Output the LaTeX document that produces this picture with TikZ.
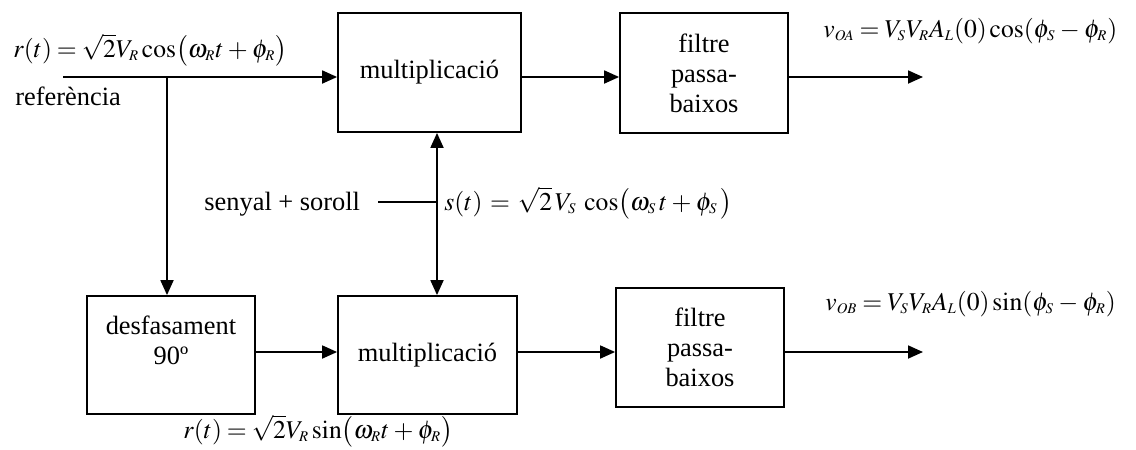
\documentclass[tikz,border=0pt]{standalone}
\usepackage{mathptmx}
\usepackage{fontspec}
\setmainfont{Liberation Serif}
\usetikzlibrary{arrows.meta}
\DeclareMathSizes{12.8}{12.8}{7.4}{5.6}
\AtBeginDocument{\thickmuskip=3.5mu\relax\medmuskip=3mu\relax}

\tikzset{
  blk/.style={draw, line width=0.9pt, inner sep=0pt, align=center,
              font=\fontsize{13.2}{15}\selectfont},
  lbl/.style={inner sep=0pt, font=\fontsize{13.2}{15}\selectfont},
  eq/.style={inner sep=0pt, font=\fontsize{12.8}{15}\selectfont},
  wire/.style={line width=0.9pt},
  arr/.style={wire, -{Triangle[length=7.5pt,width=6.5pt]}},
  darr/.style={wire, {Triangle[length=7.5pt,width=6.5pt]}-{Triangle[length=7.5pt,width=6.5pt]}}
}

\begin{document}
\begin{tikzpicture}[x=0.5pt, y=-0.5pt]
\useasboundingbox (0,0) rectangle (1136,450);

% processing blocks
\node[blk, minimum width={183*0.5pt}, minimum height={119*0.5pt}] (m1) at (429.5,72.5) {multiplicació};
\node[blk, minimum width={168*0.5pt}, minimum height={120*0.5pt}] (f1) at (704,73) {filtre\\passa-\\baixos};
\node[blk, minimum width={168*0.5pt}, minimum height={118*0.5pt}] (d) at (171,355) {desfasament\\90º\\\mbox{}};
\node[blk, minimum width={179*0.5pt}, minimum height={118*0.5pt}] (m2) at (427.5,355) {multiplicació};
\node[blk, minimum width={168*0.5pt}, minimum height={119*0.5pt}] (f2) at (700,347.5) {filtre\\passa-\\baixos};

% signal rows and junctions
\coordinate (r1) at (0,77);
\coordinate (r2) at (0,352);
\coordinate (in) at (63,77);
\coordinate (br) at (167,77);
\coordinate (sx) at (437,0);
\coordinate (sj) at (437,202);
\coordinate (sin) at (378,202);
\coordinate (o1) at (923,77);
\coordinate (o2) at (923,352);

% connectors
\draw[arr] (in) -- (in -| m1.west);
\draw[arr] (br) -- (br |- d.north);
\draw[arr] (m1.east |- r1) -- (f1.west |- r1);
\draw[arr] (f1.east |- r1) -- (o1);
\draw[arr] (d.east |- r2) -- (m2.west |- r2);
\draw[arr] (m2.east |- r2) -- (f2.west |- r2);
\draw[arr] (f2.east |- r2) -- (o2);
\draw[darr] (m1.south -| sx) -- (m2.north -| sx);
\draw[wire] (sin) -- (sj);

% labels
\node[eq, anchor=base west] (rl) at (13,57) {$r(t)=\sqrt{2}V_R\cos\bigl(\omega_R t+\phi_R\bigr)$};
\node[lbl, anchor=base west] (ref) at (15,105) {referència};
\node[lbl, anchor=base west] (sn) at (204,210) {senyal + soroll};
\node[eq, anchor=base west] (sl) at (444,210) {$s(t)\mkern2mu=\mkern2mu\sqrt{2}\,V_S\;\cos\bigl(\omega_S\,t+\phi_S\,\bigr)$};
\node[eq, anchor=base west] (rs) at (183,438) {$r(t)=\sqrt{2}V_R\sin\bigl(\omega_R t+\phi_R\bigr)$};
\node[eq, anchor=base west] (oa) at (823,37) {$v_{OA}=V_SV_RA_L(0)\cos(\phi_S-\phi_R)$};
\node[eq, anchor=base west] (ob) at (825,310) {$v_{OB}=V_SV_RA_L(0)\sin(\phi_S-\phi_R)$};
\end{tikzpicture}
\end{document}
